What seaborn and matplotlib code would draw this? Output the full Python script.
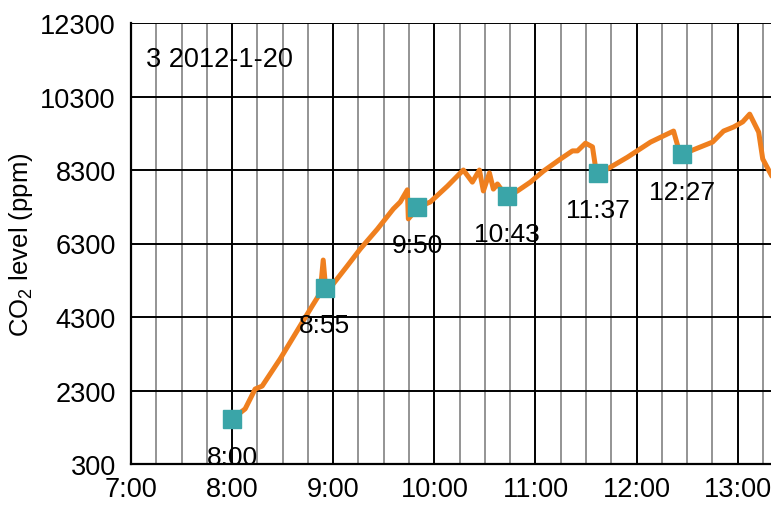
import matplotlib.pyplot as plt
import matplotlib.ticker as mticker
import pandas as pd
import seaborn as sns

# CO2 trace, time in decimal hours
line_hours = [8.000, 8.129, 8.228, 8.297, 8.475, 8.792, 8.871, 8.901, 8.931, 9.000,
              9.139, 9.267, 9.436, 9.594, 9.663, 9.733, 9.743, 9.842, 9.960, 10.129,
              10.287, 10.376, 10.446, 10.485, 10.545, 10.584, 10.624, 10.673, 10.723, 10.822,
              10.950, 11.079, 11.248, 11.366, 11.416, 11.495, 11.564, 11.594, 11.614, 11.713,
              11.911, 12.139, 12.366, 12.416, 12.446, 12.535, 12.752, 12.861, 12.960, 13.050,
              13.119, 13.208, 13.248, 13.337, 13.430]
line_ppm = [1520, 1800, 2340, 2420, 3160, 4600, 4950, 5850, 4900, 5200,
            5690, 6150, 6690, 7240, 7430, 7760, 6970, 7290, 7430, 7860,
            8300, 7970, 8300, 7730, 8220, 7780, 7920, 7730, 7590, 7730,
            7970, 8270, 8600, 8820, 8820, 9030, 8930, 8380, 8220, 8330,
            8650, 9060, 9360, 8870, 8740, 8820, 9060, 9360, 9470, 9610,
            9820, 9330, 8600, 8140, 7780]

# sample points
sample_times = ["8:00", "8:55", "9:50", "10:43", "11:37", "12:27"]
sample_ppm = [1520, 5090, 7290, 7590, 8220, 8735]

y_ticks = [300, 2300, 4300, 6300, 8300, 10300, 12300]
x_ticks = [7, 8, 9, 10, 11, 12, 13]
x_labels = ["7:00", "8:00", "9:00", "10:00", "11:00", "12:00", "13:00"]


def to_hours(s):
    h, m = s.split(":")
    return int(h) + int(m) / 60


sns.set_style("white")
plt.rcParams["font.family"] = ["Liberation Sans", "DejaVu Sans"]
plt.rcParams["mathtext.fontset"] = "custom"
plt.rcParams["mathtext.rm"] = "Liberation Sans"
for key in ["text.color", "axes.labelcolor", "xtick.color", "ytick.color"]:
    plt.rcParams[key] = "black"

line_df = pd.DataFrame({"hour": line_hours, "ppm": line_ppm})
sample_df = pd.DataFrame({"hour": [to_hours(t) for t in sample_times],
                          "ppm": sample_ppm, "label": sample_times})

fig = plt.figure(figsize=(7.71, 5.06), dpi=100)
ax = fig.add_axes([131 / 771, 41 / 506, 1 - 131 / 771 + 0.002, 441 / 506])

sns.lineplot(data=line_df, x="hour", y="ppm", ax=ax, color="#EF7F1E",
             linewidth=3.6, sort=False, zorder=3)
ax.plot(sample_df["hour"], sample_df["ppm"], linestyle="none", marker="s",
        markersize=13, color="#3AA5A8", zorder=4)

for _, r in sample_df.iterrows():
    ax.annotate(r["label"], (r["hour"], r["ppm"]), xytext=(0, -27),
                textcoords="offset points", ha="center", va="center",
                fontsize=19, zorder=5)

ax.text(7.149, 11320, "3 2012-1-20", fontsize=19.5, ha="left", va="center")

ax.set_xlim(7, 13.345)
ax.set_ylim(300, 12300)
ax.set_xticks(x_ticks)
ax.set_xticklabels(x_labels)
ax.set_yticks(y_ticks)
ax.xaxis.set_minor_locator(mticker.MultipleLocator(0.25))

ax.set_axisbelow(True)
ax.grid(True, which="major", color="black", linewidth=1.4)
ax.grid(True, which="minor", axis="x", color="#777777", linewidth=1.1)

ax.tick_params(axis="both", which="major", direction="out", length=5, width=1.4,
               labelsize=19.5, color="black")
ax.tick_params(axis="y", which="major", pad=6)
ax.tick_params(axis="x", which="major", pad=4)
ax.tick_params(axis="x", which="minor", length=0)

for side in ["top", "right"]:
    ax.spines[side].set_visible(False)
for side in ["left", "bottom"]:
    ax.spines[side].set_color("black")
    ax.spines[side].set_linewidth(1.6)

ax.set_xlabel("")
ax.set_ylabel("CO$_2$ level (ppm)", fontsize=18.5, labelpad=4)

fig.savefig("out.png", dpi=100)
